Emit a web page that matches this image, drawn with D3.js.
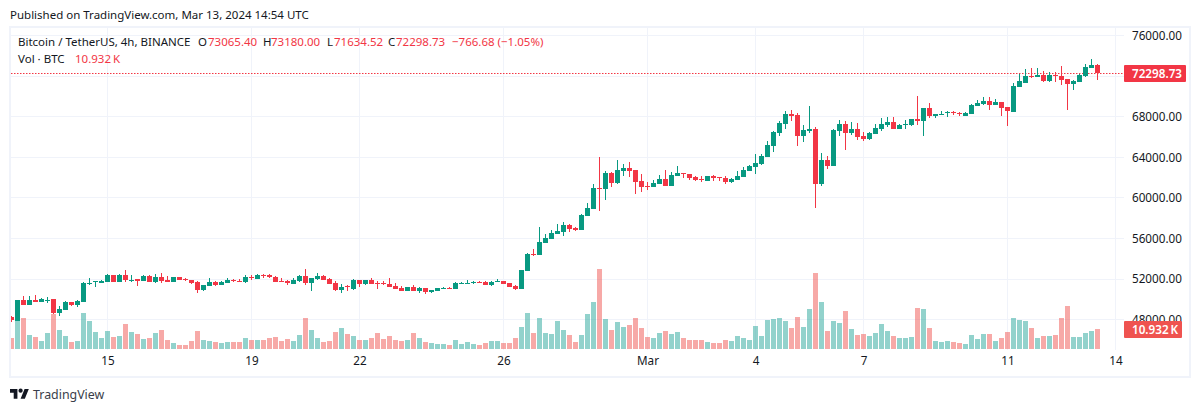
<!DOCTYPE html>
<html>
<head>
<meta charset="utf-8">
<title>BTCUSDT 4h</title>
<script src="https://cdn.jsdelivr.net/npm/d3@7"></script>
<style>
    html, body { margin: 0; padding: 0; background: #fff; overflow: hidden; }
    text { font-family: "Noto Sans", sans-serif; }
</style>
</head>
<body>
<div id="chart"></div>
<script>
// 4h bars, Feb 12 08:00 -> Mar 13 12:00 UTC
var opens = [
    48270,47910,49940,49480,49940,49780,49940,50040,48690,48990,
    49740,49480,49780,51580,51680,51650,51750,52400,51750,52440,
    51910,51980,51850,52310,51750,52210,51880,51750,52210,52010,
    51910,51710,50930,51350,51710,51450,51650,51910,51850,51710,
    52210,52040,52400,52440,52210,51810,51810,51550,51810,52310,
    51620,52010,52310,52010,51620,50930,51320,51030,51910,51520,
    51910,51650,51650,51520,51320,51120,50860,51220,50860,51120,
    50730,50860,51060,51160,51030,51550,51550,51620,51710,51710,
    51420,51710,51780,51620,51320,51030,52830,54470,54370,55560,
    55950,56440,56640,57330,57030,56840,58220,58910,60980,60880,
    62450,61470,62650,62950,62750,61670,61140,61070,61370,61860,
    61170,62160,62450,62350,62060,61890,61670,62160,62060,61960,
    61570,61760,62060,62650,63040,63340,64030,65110,66390,67280,
    68270,68170,66100,66590,66790,61370,63730,63140,66590,67280,
    66390,66790,66100,65800,66300,66790,67180,67480,66790,67220,
    67180,67770,67580,68860,68070,68200,68360,68430,68330,68070,
    68270,69050,69250,69550,69150,69450,68960,68460,70930,71350,
    72010,71910,72110,71520,72110,72010,71710,71220,71420,72010,72800,73065.40
];
var highs = [
    48400,49940,50340,50340,50400,50170,50240,50040,49350,49840,
    49740,49940,51710,52110,51780,51910,52500,52400,52500,52900,
    52400,51980,52400,52400,52500,52570,52270,52210,52210,52110,
    51910,51780,51420,52110,51810,51780,52110,52040,52040,52400,
    52440,52500,52500,52500,52270,52110,51910,52110,52440,53000,
    52110,52600,52400,52110,51810,51550,51420,52010,51910,51910,
    52110,51810,51810,52110,51620,51320,51220,51420,51220,51120,
    50930,51120,51220,51220,51710,51710,51910,51810,51810,51810,
    51810,52010,51810,51620,51420,52900,54540,54960,57130,56440,
    56840,57430,57630,57430,57130,58410,59500,61370,64030,62650,
    62550,63730,63340,63540,62750,62350,61570,61760,62260,62750,
    62550,63140,62450,62350,62160,62160,62160,62260,62060,62160,
    61960,62650,63040,63240,64330,64330,65610,66590,67580,68560,
    68660,68360,67180,69050,66990,64420,64130,66790,67670,67580,
    67480,67380,66490,66490,67280,67870,67970,67970,67280,67670,
    67770,70040,68860,69350,68270,68560,68560,68560,68460,68460,
    69250,69650,69940,69940,69740,69450,68960,71320,72210,72700,
    72800,72800,72500,72400,72400,73000,71710,71620,72210,73190,73680,73180
];
var lows = [
    47810,47910,49480,49480,49780,49780,49680,48530,48400,48990,
    49380,49280,49780,51390,51260,51580,51750,51750,51750,51750,
    51750,51350,51850,51750,51650,51650,51750,51750,51940,51810,
    51550,50630,50830,51350,51290,51390,51650,51680,51780,51650,
    51940,52040,52110,52110,51750,51750,51390,51550,51750,51450,
    50860,51910,51910,51550,50860,50630,50830,50960,51220,51420,
    51550,51030,51420,51260,51030,50860,50860,50860,50660,50530,
    50630,50860,51030,51030,51030,51550,51550,51550,51620,51420,
    51350,51710,51550,51260,50960,51030,52830,54280,54370,55560,
    55950,56440,56250,56640,56740,56840,58220,58910,58710,59790,
    61070,61370,62160,62060,60380,60580,60780,61070,61370,61170,
    61170,62160,61960,61760,61670,61570,61670,61670,61670,61370,
    61470,61760,62060,62650,62350,63240,64030,64520,66100,66790,
    67580,65110,65510,66390,59000,61170,62850,63140,66100,64720,
    66200,65700,65610,65700,66300,66590,66990,66790,66790,66790,
    67080,67180,66100,67870,67870,68170,67970,68170,68070,68070,
    68270,69050,69150,68660,69150,68070,67080,68460,70930,71350,
    71810,71910,71420,71420,71420,71120,68660,70630,71420,71910,72800,71634.52
];
var closes = [
    47940,49940,49480,49940,49780,50040,49970,48660,49050,49740,
    49480,49880,51650,51650,51780,51810,52440,51750,52400,51910,
    51940,51850,52310,51750,52210,51850,51750,52210,51940,51910,
    51620,50930,51420,51710,51420,51710,51910,51850,51780,52210,
    52180,52440,52340,52210,51750,51750,51580,51910,52340,51620,
    52110,52310,51940,51550,50930,51220,51260,51910,51550,51910,
    51550,51620,51580,51260,51030,50860,51220,50860,51120,50760,
    50930,51120,51120,51060,51650,51620,51620,51710,51650,51450,
    51710,51810,51550,51260,51030,52900,54470,54370,55660,56050,
    56540,56740,57330,56940,56840,58320,59010,60980,60910,62450,
    61470,62750,62950,62650,61570,61070,61070,61470,61860,61170,
    62260,62450,62390,61960,61760,61830,62160,61960,61960,61570,
    61860,62160,62750,63140,63440,64130,65210,66490,67380,68270,
    68070,66100,66690,66790,61370,63730,63140,66690,67280,66390,
    66790,66000,65800,66390,66890,67280,67480,66790,67180,67280,
    67770,67580,68860,68070,68270,68270,68430,68360,68270,68360,
    69150,69350,69550,69150,69450,68860,68560,71020,71520,72010,
    71940,72110,71520,72110,72040,71620,71220,71520,72110,72900,73090,72298.73
];
var volumes = [
    6010,15300,16940,7650,6560,4370,8750,19130,10390,7110,
    3830,4370,19680,15300,9290,6010,9840,6560,7110,13670,
    9290,8200,5470,6010,8750,10390,4920,3280,2190,2190,
    4370,9840,4920,4370,3830,3280,3830,3830,3830,6010,
    4920,4920,4920,6010,6560,4370,5470,4370,7650,16940,
    10390,6010,3830,4370,9290,11480,8200,7110,4920,4920,
    6010,8750,5470,7110,4920,4370,4920,8750,6010,3830,
    3280,2730,2730,2190,4920,2730,3830,2730,2190,3280,
    4370,4370,3280,3280,6010,12030,19680,8750,16940,8750,
    8200,15300,10390,7650,3830,7650,19130,25690,43730,16400,
    10390,14760,12030,13120,16940,11480,6560,6010,8750,9840,
    8200,9290,6010,4920,4920,4920,3830,3280,3280,4920,
    4370,7110,6010,4920,12570,7110,15850,16400,16940,15300,
    11480,17490,12030,21860,41540,25690,9840,15300,14210,20770,
    10930,7650,8200,7110,8750,13670,9840,7110,6010,6010,
    6560,22410,21860,11480,4370,3830,4370,3830,3280,2730,
    7650,5470,8200,8200,4370,6010,9290,16940,15850,15300,
    11480,6010,7110,7110,7650,16940,23500,6560,6560,8750,9840,10932
];

var dayLabels = ["15", "19", "22", "26", "Mar", "4", "7", "11", "14"];
var dayBars = [16, 40, 58, 82, 106, 124, 142, 166, 184];
var priceTicks = [76000, 72000, 68000, 64000, 60000, 56000, 52000, 48000];
// 72000 sits behind the last price tag, so it gets a grid line only
var priceLabels = [76000, 68000, 64000, 60000, 56000, 52000, 48000];

var width = 1200, height = 412;
var UP = "#089981", DOWN = "#f23645";
var UP_VOL = "rgba(38,166,154,0.5)", DOWN_VOL = "rgba(239,83,80,0.5)";
var GRID = "#f0f3fa", INK = "#131722";

var svg = d3.select("#chart").append("svg")
    .attr("width", width)
    .attr("height", height)
    .style("display", "block");

// scales
var x = d3.scaleLinear().domain([0, 181]).range([11.5, 1097.5]);
var y = d3.scaleLinear().domain([48000, 76000]).range([319.7, 35.5]);
var yVol = d3.scaleLinear().domain([0, 43730]).range([349, 269]);
var crisp = function(v) { return Math.floor(v) + 0.5; };

svg.append("defs").append("clipPath").attr("id", "plot")
    .append("rect").attr("x", 11).attr("y", 28).attr("width", 1113).attr("height", 348);

// frame
svg.append("rect")
    .attr("x", 10).attr("y", 27).attr("width", 1180).attr("height", 350)
    .attr("fill", "none").attr("stroke", GRID).attr("stroke-width", 2);

// grid
svg.append("g").selectAll("line").data(priceTicks).enter().append("line")
    .attr("x1", 11).attr("x2", 1124)
    .attr("y1", function(d) { return crisp(y(d)); })
    .attr("y2", function(d) { return crisp(y(d)); })
    .attr("stroke", GRID);
svg.append("g").selectAll("line").data(dayBars).enter().append("line")
    .attr("x1", function(d) { return crisp(x(d)); })
    .attr("x2", function(d) { return crisp(x(d)); })
    .attr("y1", 28).attr("y2", 350)
    .attr("stroke", GRID);

var plot = svg.append("g").attr("clip-path", "url(#plot)");
var bars = d3.range(closes.length);

// volume
plot.append("g").selectAll("rect").data(bars).enter().append("rect")
    .attr("x", function(i) { return Math.floor(x(i)) - 2; })
    .attr("width", 5)
    .attr("y", function(i) { return Math.round(yVol(volumes[i])); })
    .attr("height", function(i) { return 349 - Math.round(yVol(volumes[i])); })
    .attr("fill", function(i) { return closes[i] < opens[i] ? DOWN_VOL : UP_VOL; });

// last price line
plot.append("line")
    .attr("x1", 11).attr("x2", 1124)
    .attr("y1", crisp(y(closes[181]))).attr("y2", crisp(y(closes[181])))
    .attr("stroke", DOWN).attr("stroke-dasharray", "1.5 1.5");

// candles
var candles = plot.append("g").selectAll("g").data(bars).enter().append("g")
    .attr("fill", function(i) { return closes[i] < opens[i] ? DOWN : UP; });
candles.append("rect")
    .attr("x", function(i) { return Math.floor(x(i)); })
    .attr("width", 1)
    .attr("y", function(i) { return Math.round(y(highs[i])); })
    .attr("height", function(i) { return Math.max(1, Math.round(y(lows[i])) - Math.round(y(highs[i]))); });
candles.append("rect")
    .attr("x", function(i) { return Math.floor(x(i)) - 2; })
    .attr("width", 5)
    .attr("y", function(i) { return Math.round(y(Math.max(opens[i], closes[i]))); })
    .attr("height", function(i) { return Math.max(1, Math.round(y(Math.min(opens[i], closes[i]))) - Math.round(y(Math.max(opens[i], closes[i])))); });

// axes
var xAxis = d3.axisBottom(x).tickValues(dayBars).tickSize(0)
    .tickFormat(function(d, i) { return dayLabels[i]; });
var gx = svg.append("g").attr("transform", "translate(0,351)").call(xAxis);
gx.select(".domain").remove();
gx.selectAll("text").attr("y", 6).attr("dy", "0.71em")
    .style("font-size", "11.7px").style("font-family", '"Noto Sans", sans-serif').attr("fill", INK);

var yAxis = d3.axisRight(y).tickValues(priceLabels).tickSize(0).tickFormat(d3.format(".2f"));
var gy = svg.append("g").attr("transform", "translate(1124,0)").call(yAxis);
gy.select(".domain").remove();
gy.selectAll("text").attr("x", 8)
    .style("font-size", "11.7px").style("font-family", '"Noto Sans", sans-serif').attr("fill", INK);

// last value tags
function tag(cy, w, color, label) {
    svg.append("rect").attr("x", 1124).attr("y", cy - 8.5).attr("width", w).attr("height", 17)
        .attr("rx", 1).attr("fill", color);
    svg.append("text").attr("x", 1132).attr("y", cy + 4.5)
        .attr("font-size", 11.7).attr("font-weight", 600).attr("fill", "#fff").text(label);
}
tag(73.5, 62, DOWN, d3.format(".2f")(closes[181]));
tag(329.5, 58, "#ef5350", "10.932\u202fK");

// header and legend
function label(px, py, color, size, str) {
    svg.append("text").attr("x", px).attr("y", py).attr("fill", color)
        .attr("font-size", size).text(str);
}
label(10, 19, INK, 11.5, "Published on TradingView.com, Mar 13, 2024 14:54 UTC");
label(18, 46, INK, 11.5, "Bitcoin / TetherUS, 4h, BINANCE");
label(198, 46, INK, 11.5, "O");
label(208, 46, DOWN, 11.5, "73065.40");
label(263, 46, INK, 11.5, "H");
label(271, 46, DOWN, 11.5, "73180.00");
label(327, 46, INK, 11.5, "L");
label(334, 46, DOWN, 11.5, "71634.52");
label(388, 46, INK, 11.5, "C");
label(396, 46, DOWN, 11.5, "72298.73");
label(452, 46, DOWN, 11.5, "\u2212766.68 (\u22121.05%)");
label(18, 63, INK, 11.5, "Vol \u00b7 BTC");
label(75, 63, DOWN, 11.5, "10.932\u202fK");

// logo
var logo = svg.append("g").attr("transform", "translate(10,387) scale(0.53)").attr("fill", "#131722");
logo.append("path").attr("d", "M14 22H7V11H0V4h14v18zM28 22h-8l7.5-18h8L28 22z");
logo.append("circle").attr("cx", 20).attr("cy", 7).attr("r", 4);
label(33, 398.5, "#3a3e4a", 12.4, "TradingView");
</script>
</body>
</html>
